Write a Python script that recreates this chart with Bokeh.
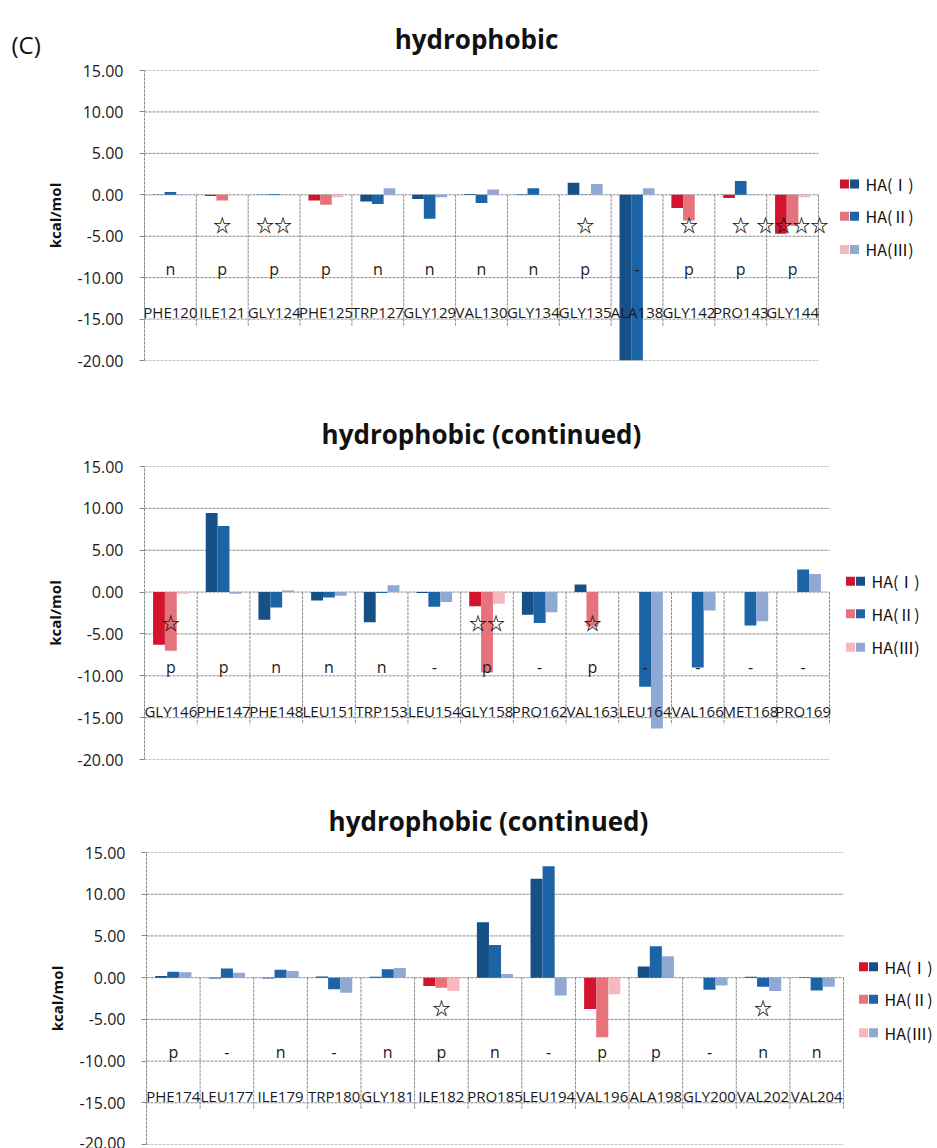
from bokeh.plotting import figure
from bokeh.layouts import column
from bokeh.models import FixedTicker, NumeralTickFormatter, Range1d, ColumnDataSource
from bokeh.core.properties import value
from bokeh.embed import file_html
from bokeh.resources import INLINE

# ---------------- data ----------------
panel_label = "(C)"
panel_titles = ["hydrophobic", "hydrophobic (continued)", "hydrophobic (continued)"]
series_names = ["HA(Ⅰ)", "HA(Ⅱ)", "HA(Ⅲ)"]

p1_residues = ["PHE120", "ILE121", "GLY124", "PHE125", "TRP127", "GLY129", "VAL130",
               "GLY134", "GLY135", "ALA138", "GLY142", "PRO143", "GLY144"]
p1_ha1 = [0.02, -0.15, 0.02, -0.7, -0.8, -0.5, 0.1, 0.05, 1.45, -20.0, -1.6, -0.4, -4.7]
p1_ha2 = [0.35, -0.7, 0.1, -1.2, -1.1, -2.9, -1.0, 0.8, 0.02, -20.0, -3.1, 1.65, -3.75]
p1_ha3 = [0.05, 0.0, 0.02, -0.3, 0.8, -0.3, 0.65, 0.02, 1.3, 0.8, 0.0, 0.1, -0.3]
p1_col1 = ["b", "r", "b", "r", "b", "b", "b", "b", "b", "b", "r", "r", "r"]
p1_col2 = ["b", "r", "b", "r", "b", "b", "b", "b", "b", "b", "r", "b", "r"]
p1_col3 = ["b", "r", "b", "r", "b", "b", "b", "b", "b", "b", "r", "b", "r"]
p1_type = ["n", "p", "p", "p", "n", "n", "n", "n", "p", "-", "p", "p", "p"]
p1_stars = ["", "☆", "☆☆", "", "", "", "", "", "☆", "", "☆", "☆", "☆☆☆☆"]

p2_residues = ["GLY146", "PHE147", "PHE148", "LEU151", "TRP153", "LEU154", "GLY158",
               "PRO162", "VAL163", "LEU164", "VAL166", "MET168", "PRO169"]
p2_ha1 = [-6.3, 9.45, -3.3, -1.0, -3.6, -0.1, -1.7, -2.7, 0.9, 0.0, 0.0, 0.0, 0.0]
p2_ha2 = [-7.0, 7.9, -1.85, -0.65, -0.1, -1.75, -9.6, -3.7, -4.1, -11.3, -9.0, -4.0, 2.7]
p2_ha3 = [-0.2, -0.2, 0.2, -0.45, 0.8, -1.2, -1.4, -2.4, 0.0, -16.3, -2.2, -3.5, 2.15]
p2_col1 = ["r", "b", "b", "b", "b", "b", "r", "b", "b", "b", "b", "b", "b"]
p2_col2 = ["r", "b", "b", "b", "b", "b", "r", "b", "r", "b", "b", "b", "b"]
p2_col3 = ["r", "b", "b", "b", "b", "b", "r", "b", "b", "b", "b", "b", "b"]
p2_type = ["p", "p", "n", "n", "n", "-", "p", "-", "p", "-", "-", "-", "-"]
p2_stars = ["☆", "", "", "", "", "", "☆☆", "", "☆", "", "", "", ""]

p3_residues = ["PHE174", "LEU177", "ILE179", "TRP180", "GLY181", "ILE182", "PRO185",
               "LEU194", "VAL196", "ALA198", "GLY200", "VAL202", "VAL204"]
p3_ha1 = [0.2, -0.1, -0.1, 0.15, 0.1, -1.0, 6.65, 11.85, -3.75, 1.35, 0.0, 0.1, 0.05]
p3_ha2 = [0.7, 1.1, 0.95, -1.4, 1.0, -1.2, 3.9, 13.35, -7.15, 3.75, -1.45, -1.1, -1.55]
p3_ha3 = [0.65, 0.6, 0.8, -1.8, 1.15, -1.6, 0.45, -2.15, -2.0, 2.55, -0.95, -1.6, -1.1]
p3_col1 = ["b", "b", "b", "b", "b", "r", "b", "b", "r", "b", "b", "b", "b"]
p3_col2 = ["b", "b", "b", "b", "b", "r", "b", "b", "r", "b", "b", "b", "b"]
p3_col3 = ["b", "b", "b", "b", "b", "r", "b", "b", "r", "b", "b", "b", "b"]
p3_type = ["p", "-", "n", "-", "n", "p", "n", "-", "p", "p", "-", "n", "n"]
p3_stars = ["", "", "", "", "", "☆", "", "", "", "", "", "☆", ""]

y_ticks = [-20, -15, -10, -5, 0, 5, 10, 15]

# ---------------- style / layout ----------------
W = 937
RED = ["#d3142e", "#e6737c", "#f6b7bd"]
BLUE = ["#174f87", "#1d64a6", "#8fa9d3"]
GRID = "#8a8a8a"
FONT = "Open Sans"
TXT = "#1a1a1a"

# header: (height, title_center_x, title_baseline_from_top)
headers = [(60, 476, 38), (76, 481, 53), (72, 488, 50)]
# plot: (border_top, frame_h, border_bottom, border_left, data_width_px, legend_offset_px)
geoms = [
    (10, 290, 20, 144, 674, 22),
    (10, 293, 11, 144, 685, 17),
    (10, 292, 4, 146, 697, 16),
]

panels = [
    (p1_residues, [p1_ha1, p1_ha2, p1_ha3], [p1_col1, p1_col2, p1_col3], p1_type, p1_stars),
    (p2_residues, [p2_ha1, p2_ha2, p2_ha3], [p2_col1, p2_col2, p2_col3], p2_type, p2_stars),
    (p3_residues, [p3_ha1, p3_ha2, p3_ha3], [p3_col1, p3_col2, p3_col3], p3_type, p3_stars),
]


def make_header(k):
    h, tx, tb = headers[k]
    f = figure(width=W, height=h, min_border=0, output_backend="svg", toolbar_location=None,
               x_axis_location=None, y_axis_location=None, frame_align=False,
               x_range=Range1d(0, W), y_range=Range1d(h, 0))
    f.outline_line_color = None
    f.grid.visible = False
    f.text(x=[tx], y=[tb], text=[panel_titles[k]], text_align="center",
           text_baseline="alphabetic", text_font=value(FONT), text_font_style="bold",
           text_font_size="26px", text_color="#111111")
    if k == 0:
        f.text(x=[11], y=[44], text=[panel_label], text_align="left",
               text_baseline="alphabetic", text_font=value(FONT),
               text_font_size="24px", text_color="#111111")
    return f


def make_panel(k):
    res, vals, cols, types, stars = panels[k]
    bt, fh, bb, bl, dw, loff = geoms[k]
    n = len(res)
    catw = dw / n
    fw = W - bl
    x_end = -0.5 + fw / catw
    p = figure(frame_width=fw, frame_height=fh, min_border_top=bt, min_border_bottom=bb,
               min_border_left=bl, min_border_right=0, output_backend="svg",
               toolbar_location=None, x_axis_location=None, frame_align=False,
               x_range=Range1d(-0.5, x_end), y_range=Range1d(-20, 15))
    p.outline_line_color = None
    p.grid.visible = False
    ax = p.yaxis[0]
    ax.ticker = FixedTicker(ticks=y_ticks)
    ax.formatter = NumeralTickFormatter(format="0.00")
    ax.axis_line_color = GRID
    ax.axis_line_dash = "3 1"
    ax.major_tick_line_color = GRID
    ax.major_tick_out = 5
    ax.major_tick_in = 0
    ax.minor_tick_line_color = None
    ax.major_label_standoff = 16
    ax.major_label_text_font = FONT
    ax.major_label_text_font_size = "16px"
    ax.major_label_text_color = TXT
    ax.axis_label = "kcal/mol"
    ax.axis_label_text_font = FONT
    ax.axis_label_text_font_style = "bold"
    ax.axis_label_text_font_size = "15px"
    ax.axis_label_text_color = "#111111"
    ax.axis_label_standoff = 10

    # horizontal grid lines, limited to the category area
    p.segment(x0=[-0.5] * len(y_ticks), y0=y_ticks, x1=[n - 0.5] * len(y_ticks), y1=y_ticks,
              line_color=GRID, line_width=1, line_dash="3 1", level="underlay")
    # table separators
    bx = [i - 0.5 for i in range(n + 1)]
    p.segment(x0=bx, y0=[0] * len(bx), x1=bx, y1=[-15.8] * len(bx),
              line_color=GRID, line_width=1, line_dash="3 1", level="underlay")

    # bars
    offsets = [-0.225, 0.0, 0.225]
    for s in range(3):
        src = ColumnDataSource(dict(
            x=[i + offsets[s] for i in range(n)],
            top=vals[s],
            color=[RED[s] if c == "r" else BLUE[s] for c in cols[s]],
        ))
        p.vbar(x="x", top="top", bottom=0, width=0.225, source=src,
               fill_color="color", line_color=None)

    xs = list(range(n))
    p.text(x=xs, y=[-3.55] * n, text=stars, text_align="center", text_baseline="middle",
           text_font=value("Noto Sans CJK JP"), text_font_style="bold",
           text_font_size="18px", text_color="#111111")
    p.text(x=xs, y=[-8.9] * n, text=types, text_align="center", text_baseline="middle",
           text_font=value(FONT), text_font_size="16px", text_color=TXT)
    p.text(x=xs, y=[-14.2] * n, text=res, text_align="center", text_baseline="middle",
           text_font=value(FONT), text_font_size="15px", text_color=TXT)

    # legend (two coloured squares per series, then the name)
    rows_y = [1.3, -2.6, -6.6]
    xr = n - 0.5 + (loff + 4) / catw
    xb = n - 0.5 + (loff + 14) / catw
    xt = n - 0.5 + (loff + 25) / catw
    p.rect(x=[xr] * 3, y=rows_y, width=9, height=9, width_units="screen", height_units="screen",
           fill_color=RED, line_color=None)
    p.rect(x=[xb] * 3, y=rows_y, width=9, height=9, width_units="screen", height_units="screen",
           fill_color=BLUE, line_color=None)
    p.text(x=[xt] * 3, y=rows_y, text=series_names, text_align="left", text_baseline="middle",
           text_font=value("Noto Sans CJK JP"), text_font_size="16px", text_color="#111111")
    return p


items = []
for k in range(3):
    items.append(make_header(k))
    items.append(make_panel(k))

layout = column(*items, spacing=0)
open("out.html", "w").write(file_html(layout, INLINE))
